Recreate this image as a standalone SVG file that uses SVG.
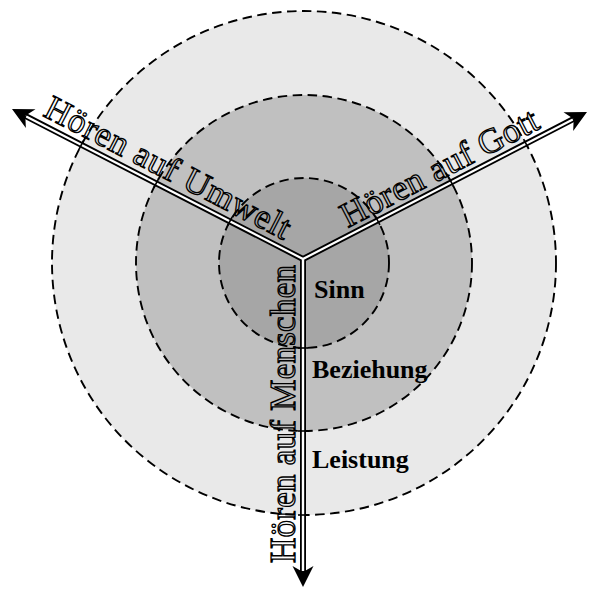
<svg xmlns="http://www.w3.org/2000/svg" width="592" height="590" viewBox="0 0 592 590">
<style>
.ring{stroke:#000;stroke-width:1.9;stroke-dasharray:9.5 5.5}
.blk{fill:none;stroke:#000;stroke-width:6;stroke-linejoin:miter}
.wht{fill:none;stroke:#fff;stroke-width:2.2;stroke-linejoin:miter}
.tick{stroke:#000;stroke-width:1.6}
.out{font-family:"Liberation Serif","Times New Roman",serif;font-size:35px;fill:none;stroke:#000;stroke-width:1.3}
.lbl{font-family:"Liberation Serif","Times New Roman",serif;font-weight:bold;font-size:26px;fill:#000}
</style>
<defs>
<path id="ah" d="M0,0 L-21,-10.5 L-15,0 L-21,10.5 Z" fill="#000"/>
</defs>
<rect width="592" height="590" fill="#fff"/>
<g id="ring-leistung">
<circle class="ring" cx="304" cy="263" r="252" fill="#e9e9e9"/>
<text class="lbl" x="312" y="468">Leistung</text>
</g>
<g id="ring-beziehung">
<circle class="ring" cx="304" cy="263" r="168" fill="#c0c0c0"/>
<text class="lbl" x="312" y="378">Beziehung</text>
</g>
<g id="ring-sinn">
<circle class="ring" cx="304" cy="263" r="85" fill="#a6a6a6"/>
<text class="lbl" x="314" y="298">Sinn</text>
</g>
<g id="connectors">
<path class="blk" d="M25.3,115.9 L303,259 L303,572"/>
<path class="blk" d="M573.7,118.9 L303,259 L303,572"/>
<path class="wht" d="M26.2,116.4 L303,259 L303,571"/>
<path class="wht" d="M572.8,119.4 L303,259 L303,571"/>
<line class="tick" x1="298" y1="348" x2="308" y2="348"/>
<line class="tick" x1="298" y1="431" x2="308" y2="431"/>
<line class="tick" x1="298" y1="515" x2="308" y2="515"/>
<line class="tick" x1="375.3" y1="216" x2="379.9" y2="224.8"/>
<line class="tick" x1="449" y1="177.8" x2="453.6" y2="186.6"/>
<line class="tick" x1="523.6" y1="139.2" x2="528.2" y2="148"/>
<line class="tick" x1="227.6" y1="225.7" x2="232.2" y2="216.9"/>
<line class="tick" x1="153.9" y1="187.7" x2="158.5" y2="178.9"/>
<line class="tick" x1="79.1" y1="149.2" x2="83.7" y2="140.4"/>
<use href="#ah" transform="translate(303,587) rotate(90)"/>
<use href="#ah" transform="translate(587,112) rotate(-27.37)"/>
<use href="#ah" transform="translate(12,109) rotate(207.27)"/>
</g>
<g id="label-umwelt">
<text class="out" transform="translate(42,115.5) rotate(27.27)" textLength="272">Hören auf Umwelt</text>
</g>
<g id="label-gott">
<text class="out" transform="translate(347.8,228) rotate(-27.37)" textLength="218">Hören auf Gott</text>
</g>
<g id="label-menschen">
<text class="out" transform="translate(295,563) rotate(-90)" textLength="298">Hören auf Menschen</text>
</g>
</svg>
